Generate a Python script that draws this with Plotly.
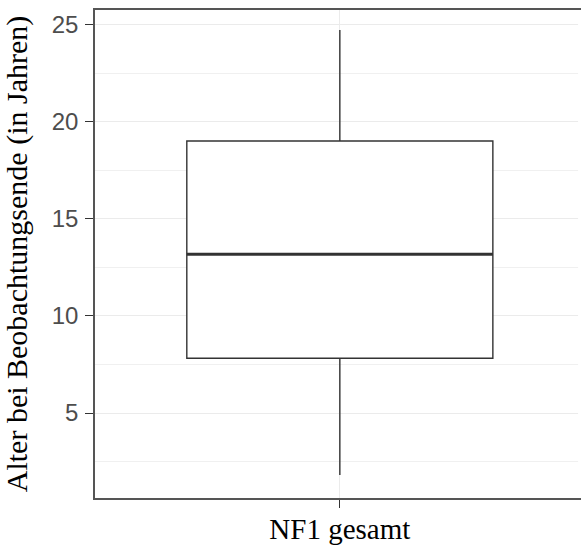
import plotly.graph_objects as go

# Data
categories = ["NF1 gesamt"]
lower_fence = [1.80]
q1_vals = [7.82]
median_vals = [13.18]
q3_vals = [19.02]
upper_fence = [24.74]
y_ticks = [5, 10, 15, 20, 25]

BOX_WIDTH = 0.75
xpos = list(range(len(categories)))

fig = go.Figure()
fig.add_trace(go.Box(
    x=xpos, q1=q1_vals, median=median_vals, q3=q3_vals,
    lowerfence=lower_fence, upperfence=upper_fence,
    width=BOX_WIDTH, whiskerwidth=0,
    fillcolor="white", line=dict(color="#333333", width=1.4),
    boxpoints=False, showlegend=False, hoverinfo="skip",
))
# thicker median line like ggplot
for i, m in zip(xpos, median_vals):
    fig.add_trace(go.Scatter(
        x=[i - BOX_WIDTH / 2, i + BOX_WIDTH / 2], y=[m, m], mode="lines",
        line=dict(color="#333333", width=3), showlegend=False, hoverinfo="skip",
    ))

# panel continues past the right image edge: hide any edge artefact there
fig.add_shape(type="rect", xref="paper", yref="paper", x0=0.994, x1=1.01,
              y0=0.006, y1=0.994, fillcolor="white", line=dict(width=0),
              layer="above")

fig.update_layout(
    width=581, height=547,
    margin=dict(l=95, r=0, t=10, b=49, autoexpand=False),
    plot_bgcolor="white", paper_bgcolor="white",
)
fig.update_xaxes(
    range=[-0.600, 0.591], tickmode="array", tickvals=xpos, ticktext=categories,
    showgrid=True, gridcolor="#ebebeb", gridwidth=1, zeroline=False,
    showline=True, linecolor="#555555", linewidth=1.6, mirror=True,
    ticks="outside", ticklen=8, tickcolor="#333333", tickwidth=1.2,
    ticklabelstandoff=-4,
    tickfont=dict(family="Liberation Serif", size=29, color="black"),
)
fig.update_yaxes(
    range=[0.62, 25.77], tickmode="array", tickvals=y_ticks,
    ticktext=[str(v) for v in y_ticks],
    showgrid=True, gridcolor="#ebebeb", gridwidth=1, zeroline=False,
    minor=dict(dtick=2.5, tick0=0, showgrid=True, gridcolor="#f0f0f0", gridwidth=1),
    showline=True, linecolor="#555555", linewidth=1.6, mirror=False,
    ticks="outside", ticklen=8, tickcolor="#333333", tickwidth=1.2,
    ticklabelstandoff=2,
    tickfont=dict(family="Liberation Sans", size=24, color="#4d4d4d"),
    title=dict(text="Alter bei Beobachtungsende (in Jahren)",
               font=dict(family="Liberation Serif", size=30, color="black"),
               standoff=15),
)
fig.write_html("out.html")
